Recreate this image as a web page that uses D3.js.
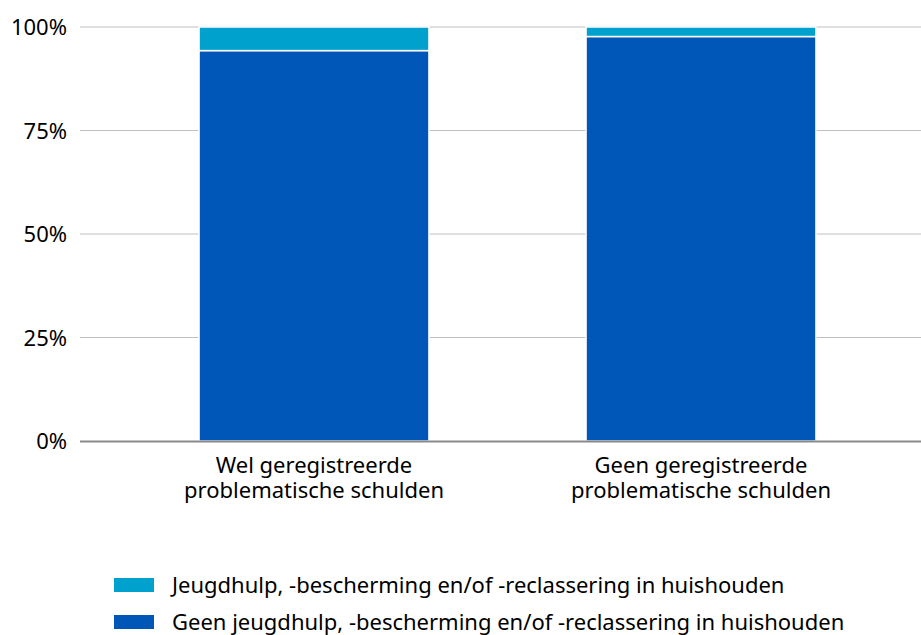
<!DOCTYPE html>
<html>
<head>
<meta charset="utf-8">
<script src="https://cdn.jsdelivr.net/npm/d3@7"></script>
<style>
  body { margin: 0; background: #fff; }
  text { font-family: "Noto Sans", sans-serif; fill: #000; }
</style>
</head>
<body>
<div id="chart"></div>
<script>
// data
var categories = [["Wel geregistreerde", "problematische schulden"], ["Geen geregistreerde", "problematische schulden"]];
var seriesNames = ["Geen jeugdhulp, -bescherming en/of -reclassering in huishouden", "Jeugdhulp, -bescherming en/of -reclassering in huishouden"];
var geenValues = [0.943, 0.977];
var welValues = [0.057, 0.023];
var yTicks = [0, 0.25, 0.5, 0.75, 1];
var colors = ["#0057b7", "#00a2cd"];

var width = 921, height = 635;
var svg = d3.select('#chart').append('svg')
  .attr('width', width)
  .attr('height', height);

var y = d3.scaleLinear().domain([0, 1]).range([441, 27]);
var x = d3.scaleBand().domain([0, 1]).range([120.5, 894.5]).paddingInner(0.406).paddingOuter(0.203);

// gridlines
svg.selectAll('line.grid').data(yTicks.slice(1))
  .enter().append('line')
  .attr('class', 'grid')
  .attr('x1', 80).attr('x2', width)
  .attr('y1', function (d) { return y(d); })
  .attr('y2', function (d) { return y(d); })
  .attr('stroke', '#c0c0c0')
  .attr('stroke-width', 1);

// y axis labels
var yAxis = d3.axisLeft(y).tickValues(yTicks).tickFormat(d3.format('.0%')).tickSize(0).tickPadding(0);
var yg = svg.append('g').attr('transform', 'translate(67,0)').call(yAxis);
yg.select('.domain').remove();
yg.selectAll('text').style('font-size', '22px').attr('dy', '0.35em').attr('fill', '#000');

// stacked bars
var stacked = [0, 1].map(function (i) {
  return [
    { i: i, y0: 0, y1: geenValues[i], c: colors[0] },
    { i: i, y0: geenValues[i], y1: geenValues[i] + welValues[i], c: colors[1] }
  ];
});
svg.selectAll('g.bar').data(stacked)
  .enter().append('g')
  .selectAll('rect').data(function (d) { return d; })
  .enter().append('rect')
  .attr('x', function (d) { return x(d.i); })
  .attr('width', x.bandwidth())
  .attr('y', function (d) { return y(d.y1); })
  .attr('height', function (d) { return y(d.y0) - y(d.y1); })
  .attr('fill', function (d) { return d.c; })
  .attr('stroke', '#fff')
  .attr('stroke-width', 1.5);

// baseline
svg.append('line')
  .attr('x1', 80).attr('x2', width)
  .attr('y1', y(0) + 0.5).attr('y2', y(0) + 0.5)
  .attr('stroke', '#8a8a8a')
  .attr('stroke-width', 2);

// category labels
svg.selectAll('text.cat').data(categories)
  .enter().append('text')
  .attr('class', 'cat')
  .attr('text-anchor', 'middle')
  .style('font-size', '22px')
  .attr('transform', function (d, i) { return 'translate(' + (x(i) + x.bandwidth() / 2) + ',473)'; })
  .selectAll('tspan').data(function (d) { return d; })
  .enter().append('tspan')
  .attr('x', 0)
  .attr('y', function (d, j) { return j * 25; })
  .text(function (d) { return d; });

// legend
var legend = [
  { name: seriesNames[1], c: colors[1] },
  { name: seriesNames[0], c: colors[0] }
];
var lg = svg.selectAll('g.legend').data(legend)
  .enter().append('g')
  .attr('transform', function (d, i) { return 'translate(114,' + (578 + i * 37) + ')'; });
lg.append('rect')
  .attr('width', 40).attr('height', 14)
  .attr('fill', function (d) { return d.c; });
lg.append('text')
  .attr('x', 58).attr('y', 15)
  .style('font-size', '22px')
  .text(function (d) { return d.name; });
</script>
</body>
</html>
